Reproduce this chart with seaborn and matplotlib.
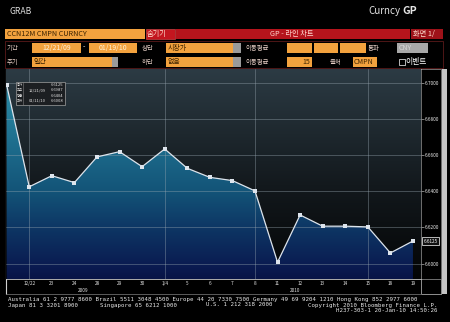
import numpy as np
import pandas as pd
import matplotlib
matplotlib.use("Agg")
import matplotlib.pyplot as plt
import seaborn as sns
from matplotlib.patches import Rectangle
from matplotlib.colors import LinearSegmentedColormap

# ---------------- data ----------------
dates = ['12/21', '12/22', '23', '24', '28', '29', '30', '1/4', '5', '6',
         '7', '8', '11', '12', '13', '14', '15', '18', '19']
values = [6.6987, 6.6425, 6.6486, 6.6448, 6.6590, 6.6619, 6.6536, 6.6634,
          6.6527, 6.6477, 6.6459, 6.6402, 6.6008, 6.6269, 6.6207, 6.6207,
          6.6203, 6.6059, 6.6125]
y_ticks = [6.70, 6.68, 6.66, 6.64, 6.62, 6.60]
year_labels = ['2009', '2010']
vgrid_idx = [1, 7, 11, 16]

df = pd.DataFrame({'idx': np.arange(len(values)), 'value': values, 'date': dates})

# ---------------- style ----------------
sns.set_style("dark")
plt.rcParams['font.family'] = ['Noto Sans CJK KR', 'DejaVu Sans']

W, H = 450, 322
fig = plt.figure(figsize=(W / 100, H / 100), dpi=100, facecolor='black')

# overlay axes in pixel coordinates
ov = fig.add_axes([0, 0, 1, 1])
ov.set_xlim(0, W)
ov.set_ylim(H, 0)
ov.axis('off')
ov.set_facecolor('black')


def box(x0, y0, x1, y1, fc, ec='none', lw=0.6, z=1, a=None):
    a = a or ov
    a.add_patch(Rectangle((x0, y0), x1 - x0, y1 - y0, facecolor=fc,
                          edgecolor=ec, linewidth=lw, zorder=z))


def txt(x, y, s, size=5, color='white', ha='left', a=None, **kw):
    a = a or ov
    a.text(x, y, s, fontsize=size, color=color, ha=ha, va='center', **kw)


ORANGE = '#f3a23e'
RED = '#b5141c'
LBL = '#e6cfc6'
DARK = '#3b2200'
GREY = '#9a9a9a'

# title strip
txt(10, 11, 'GRAB', size=6.2, color='#dcdcdc')
txt(368, 11, 'Curncy', size=7, color='#e4e4e4')
txt(402, 11, 'GP', size=7.6, color='#e4e4e4', fontweight='bold')

# header row 1
box(5, 29, 145, 39, ORANGE)
txt(7, 34, 'CCN12M CMPN CURNCY', size=5.2, color=DARK)
box(145.5, 29, 175, 39, '#c4161f', ec='#e05050', lw=0.4)
txt(147, 34, '숨기기', size=5.2, color='#ffe0d0')
box(176, 29, 410, 39, RED)
txt(292, 34, 'GP - 라인 차트', size=5.2, color='#ffd8d0', ha='center')
box(410.5, 29, 443, 39, '#9e1219')
txt(413, 34, '화면 1/', size=5.2, color='#ffe0d0')

# header rows frame
box(5, 40.5, 443, 68, 'none', ec='#5a1a1a', lw=0.6)

# row 2
r2 = (42.7, 52.7)
ym2 = sum(r2) / 2
txt(7, ym2, '기간', size=4.6, color=LBL)
box(32, r2[0], 81, r2[1], ORANGE)
txt(56.5, ym2, '12/21/09', size=5, color='#fff2dc', ha='center')
txt(83, ym2, '-', size=5, color='white')
box(89, r2[0], 137, r2[1], ORANGE)
txt(113, ym2, '01/19/10', size=5, color='#fff2dc', ha='center')
txt(142, ym2, '상단', size=4.6, color=LBL)
box(166, r2[0], 233, r2[1], ORANGE)
box(233, r2[0], 241, r2[1], GREY)
txt(168, ym2, '시장가', size=5, color=DARK)
txt(245, ym2, '이동평균', size=4.6, color=LBL)
box(287, r2[0], 312, r2[1], ORANGE)
box(313.5, r2[0], 338, r2[1], ORANGE)
box(340, r2[0], 366, r2[1], ORANGE)
txt(368, ym2, '통화', size=4.6, color=LBL)
box(397, r2[0], 428, r2[1], '#a8a8a8')
txt(399, ym2, 'CNY', size=5, color='#d8d8d8')

# row 3
r3 = (56.7, 66.7)
ym3 = sum(r3) / 2
txt(7, ym3, '주기', size=4.6, color=LBL)
box(32, r3[0], 112, r3[1], ORANGE)
box(112, r3[0], 118, r3[1], GREY)
txt(34, ym3, '일간', size=5, color=DARK)
txt(142, ym3, '하단', size=4.6, color=LBL)
box(166, r3[0], 233, r3[1], ORANGE)
box(233, r3[0], 241, r3[1], GREY)
txt(168, ym3, '없음', size=5, color=DARK)
txt(245, ym3, '이동평균', size=4.6, color=LBL)
box(287, r3[0], 312, r3[1], ORANGE)
txt(310, ym3, '15', size=5, color=DARK, ha='right')
txt(330, ym3, '출처', size=4.6, color=LBL)
box(353, r3[0], 377, r3[1], ORANGE)
txt(354, ym3, 'CMPN', size=5, color=DARK)
box(399, 59, 404.5, 64.5, 'none', ec='white', lw=0.5)
txt(405, ym3, '이벤트', size=5.6, color='white')

# chart frame pieces
box(421, 69, 441, 294, 'black', ec='#9a9a9a', lw=0.5, z=0.5)
box(421, 279, 441, 294, 'none', ec='#9a9a9a', lw=0.5)
box(442, 69, 447, 294, '#c4c4c4')
ov.plot([6, 6], [69, 294], color='#d0d0d0', lw=0.8)
ov.plot([6, 421], [294, 294], color='#6a6a6a', lw=0.6)
ov.plot([6, 421], [279.3, 279.3], color='#c8c8c8', lw=0.6)
ov.plot([6, 421], [69, 69], color='#c8c8c8', lw=0.6)

# year labels
txt(83, 290, year_labels[0], size=3.4, color='#e0e0e0', ha='center')
txt(295, 290, year_labels[1], size=3.4, color='#e0e0e0', ha='center')

# footer
fm = dict(family='DejaVu Sans Mono')
FS = 4.18
txt(8, 299, 'Australia 61 2 9777 8600 Brazil 5511 3048 4500 Europe 44 20 7330 7500 '
    'Germany 49 69 9204 1210 Hong Kong 852 2977 6000', size=FS, color='#e8e8e8', **fm)
txt(8, 305, 'Japan 81 3 3201 8900', size=FS, color='#e8e8e8', **fm)
txt(100, 305, 'Singapore 65 6212 1000', size=FS, color='#e8e8e8', **fm)
txt(206, 305, 'U.S. 1 212 318 2000', size=FS, color='#e8e8e8', **fm)
txt(437, 305, 'Copyright 2010 Bloomberg Finance L.P.', size=FS, color='#e8e8e8', ha='right', **fm)
txt(437, 311, 'H237-303-1 20-Jan-10 14:50:26', size=FS, color='#e8e8e8', ha='right', **fm)

# ---------------- main chart ----------------
ax = fig.add_axes([6 / W, 1 - 279 / H, (421 - 6) / W, (279 - 69) / H])
step = 22.57
x0px = 6.7
xmin = -(x0px - 6) / step
xmax = (421 - x0px) / step
ytop, ybot = 6.7076, 6.5915

bg_cmap = LinearSegmentedColormap.from_list(
    'bg', [(0, '#040506'), (0.45, '#13191d'), (1, '#2c3b44')])
fill_cmap = LinearSegmentedColormap.from_list(
    'fill', [(0, '#081446'), (0.05, '#0a1a50'), (0.23, '#0d3463'),
             (0.42, '#135478'), (0.9, '#2a8aa5'), (1, '#2f97b0')])
grad = np.linspace(0, 1, 256).reshape(-1, 1)
ax.imshow(grad, extent=[xmin, xmax, ybot, ytop], aspect='auto', cmap=bg_cmap,
          origin='lower', zorder=0)
poly = ax.fill_between(df['idx'], df['value'], ybot, color='none', lw=0)
img = ax.imshow(grad, extent=[xmin, xmax, ybot, ytop], aspect='auto', cmap=fill_cmap,
                origin='lower', zorder=1)
img.set_clip_path(poly.get_paths()[0], ax.transData)

for yv in y_ticks:
    ax.axhline(yv, color='#9aa8b2', alpha=0.45, lw=0.6, zorder=2)
for xi in vgrid_idx:
    ax.axvline(xi, color='#9aa8b2', alpha=0.45, lw=0.6, zorder=2)

sns.lineplot(data=df, x='idx', y='value', ax=ax, color='#dde4ec', lw=0.9,
             marker='s', markersize=2.2, markeredgewidth=0, zorder=3)

ax.set_xlim(xmin, xmax)
ax.set_ylim(ybot, ytop)
ax.set_xlabel('')
ax.set_ylabel('')
for s in ax.spines.values():
    s.set_visible(False)
ax.grid(False)

ax.set_xticks(df['idx'][1:])
ax.set_xticklabels(dates[1:])
ax.tick_params(axis='x', length=0, pad=1.2, labelsize=3.4, labelcolor='#e0e0e0')
ax.yaxis.tick_right()
ax.set_yticks(y_ticks)
ax.set_yticklabels([f'{v:.4f}' for v in y_ticks])
ax.tick_params(axis='y', length=2, width=0.5, color='#b0b0b0', pad=0.8,
               labelsize=3.4, labelcolor='#e8e8e8')

# last value marker
ax.text(1.006, (values[-1] - ybot) / (ytop - ybot), f'{values[-1]:.4f}',
        transform=ax.transAxes, fontsize=3.4, color='white', ha='left', va='center',
        bbox=dict(boxstyle='square,pad=0.25', fc='#101010', ec='white', lw=0.5))

# legend box on a top overlay
top = fig.add_axes([0, 0, 1, 1], zorder=10)
top.set_xlim(0, W)
top.set_ylim(H, 0)
top.axis('off')
top.patch.set_alpha(0)
box(16, 82, 65, 105, '#1c1f22', ec='#a0a0a0', lw=0.5, z=5, a=top)
top.plot([22.5, 22.5], [82, 105], color='#808080', lw=0.4, zorder=6)
hi_i = int(np.argmax(values))
lo_i = int(np.argmin(values))
rows = [('종가', '', values[-1]),
        ('최고', '12/21/09', values[hi_i]),
        ('평균', '', float(np.mean(values))),
        ('최저', '01/11/10', values[lo_i])]
for k, (lab, d, v) in enumerate(rows):
    yy = 85.3 + k * 5.1
    top.text(17, yy, lab, fontsize=2.4, color='#e0e0e0', va='center', zorder=6)
    if d:
        top.text(29, yy, d, fontsize=3.0, color='#e0e0e0', va='center', zorder=6)
    top.text(63.5, yy, f'{v:.4f}', fontsize=3.0, color='#e0e0e0', va='center',
             ha='right', zorder=6)

fig.savefig('out.png', dpi=100, facecolor='black')
